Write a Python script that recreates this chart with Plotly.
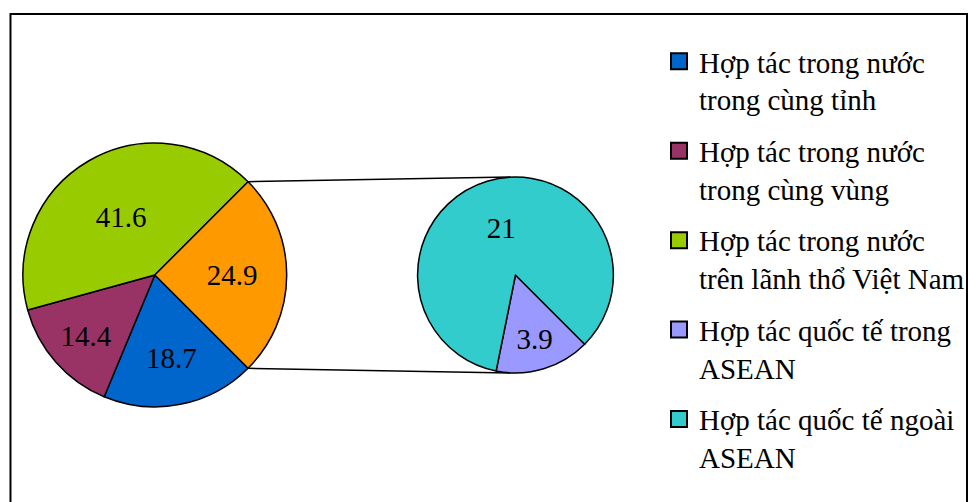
import plotly.graph_objects as go
import math

# ---- data ----
main_labels = ["Hợp tác trong nước<br>trong cùng tỉnh",
               "Hợp tác trong nước<br>trong cùng vùng",
               "Hợp tác trong nước<br>trên lãnh thổ Việt Nam",
               "Khác"]
main_values = [18.7, 14.4, 41.6, 24.9]
main_colors = ["#0066CC", "#993366", "#99CC00", "#FF9900"]

sub_labels = ["Hợp tác quốc tế trong<br>ASEAN", "Hợp tác quốc tế ngoài<br>ASEAN"]
sub_values = [3.9, 21]
sub_colors = ["#9999FF", "#33CCCC"]

legend_labels = [main_labels[0], main_labels[1], main_labels[2], sub_labels[0], sub_labels[1]]
legend_colors = [main_colors[0], main_colors[1], main_colors[2], sub_colors[0], sub_colors[1]]

W, H = 970, 502
FONT = "Liberation Serif"

# geometry (pixels)
mcx, mcy, mr = 155, 275, 132
scx, scy, sr = 516, 275, 98

def dom(cx, cy, r):
    return dict(x=[(cx - r) / W, (cx + r) / W], y=[1 - (cy + r) / H, 1 - (cy - r) / H])

other_share = main_values[3] / sum(main_values) * 360.0
rot = 90 + other_share / 2.0

fig = go.Figure()
fig.add_trace(go.Pie(
    labels=main_labels, values=main_values, sort=False, direction="clockwise",
    rotation=rot, domain=dom(mcx, mcy, mr),
    marker=dict(colors=main_colors, line=dict(color="black", width=1.5)),
    textinfo="value", textposition="inside", insidetextorientation="horizontal",
    textfont=dict(family=FONT, size=29, color="black"),
    showlegend=False, hoverinfo="label+value",
))
fig.add_trace(go.Pie(
    labels=sub_labels, values=sub_values, sort=False, direction="clockwise",
    rotation=rot, domain=dom(scx, scy, sr),
    marker=dict(colors=sub_colors, line=dict(color="black", width=1.5)),
    textinfo="value", textposition="inside", insidetextorientation="horizontal",
    textfont=dict(family=FONT, size=29, color="black"),
    showlegend=False, hoverinfo="label+value",
))

for i, (lab, col) in enumerate(zip(legend_labels, legend_colors)):
    fig.add_trace(go.Scatter(
        x=[None], y=[None], mode="markers", name=lab, legendgroup=f"g{i}",
        marker=dict(symbol="square", size=16, color=col, line=dict(color="black", width=2)),
    ))

# connector lines from "other" slice edges to the secondary pie
half = math.radians(other_share / 2.0)
x_top = mcx + mr * math.cos(half)
y_top = mcy - mr * math.sin(half)
y_bot = mcy + mr * math.sin(half)
for (y0, y1) in [(y_top, scy - sr), (y_bot, scy + sr)]:
    fig.add_shape(type="line", xref="paper", yref="paper",
                  x0=x_top / W, y0=1 - y0 / H, x1=(scx - 5) / W, y1=1 - y1 / H,
                  line=dict(color="black", width=1.5))

# chart border
fig.add_shape(type="rect", xref="paper", yref="paper",
              x0=10.5 / W, y0=-0.05, x1=968 / W, y1=1 - 14 / H,
              line=dict(color="black", width=2), layer="below")

fig.update_layout(
    width=W, height=H, margin=dict(l=0, r=0, t=0, b=0),
    paper_bgcolor="white", plot_bgcolor="white",
    font=dict(family=FONT),
    xaxis=dict(visible=False), yaxis=dict(visible=False),
    legend=dict(x=660 / W, y=1 - 36 / H, xanchor="left", yanchor="top",
                font=dict(family=FONT, size=29, color="black"),
                valign="top", tracegroupgap=11, bgcolor="rgba(0,0,0,0)"),
)

fig.write_html("out.html")
